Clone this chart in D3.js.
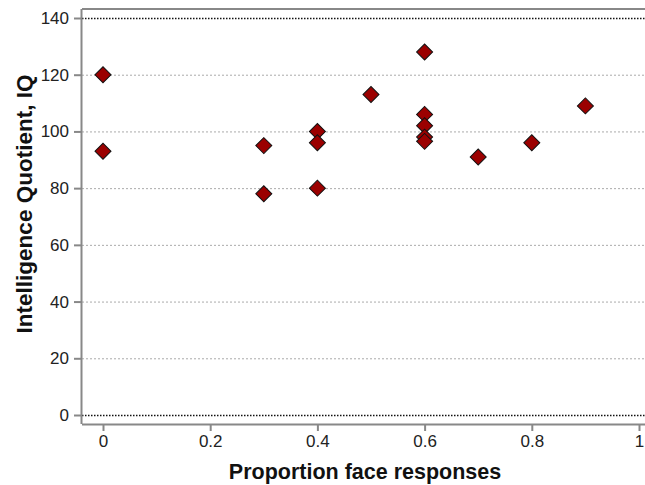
<!DOCTYPE html>
<html>
<head>
<meta charset="utf-8">
<script src="https://cdn.jsdelivr.net/npm/d3@7"></script>
<style>
  body{margin:0;background:#fff;}
  svg{font-family:"Liberation Sans",Arial,sans-serif;}
</style>
</head>
<body>
<div class="chart"></div>
<script>
// data
const faceProp = [0, 0, 0.3, 0.3, 0.4, 0.4, 0.4, 0.5, 0.6, 0.6, 0.6, 0.6, 0.6, 0.7, 0.8, 0.9];
const iqValues = [120, 93, 95, 78, 100, 96, 80, 113, 128, 106, 102, 98, 96.5, 91, 96, 109];
const xTicks = [0, 0.2, 0.4, 0.6, 0.8, 1];
const yTicks = [0, 20, 40, 60, 80, 100, 120, 140];

const points = faceProp.map((d, i) => ({x: d, y: iqValues[i]}));

const width = 645, height = 485;
const margin = {top: 9, right: 0, bottom: 61, left: 82};

const svg = d3.select('.chart').append('svg')
  .attr('width', width).attr('height', height);

const plotW = width - margin.left - margin.right;
const plotH = height - margin.top - margin.bottom;

// x: 0 -> 103px, 1 -> 639px
const xScale = d3.scaleLinear().domain([0, 1]).range([103 - margin.left, 639 - margin.left]);
// y: 140 -> 18px, 0 -> 415px
const yScale = d3.scaleLinear().domain([0, 140]).range([415 - margin.top, 18 - margin.top]);

const g = svg.append('g').attr('transform', `translate(${margin.left},${margin.top})`);

// gridlines
g.selectAll('.grid').data(yTicks).enter()
  .append('line').attr('class', 'grid')
  .attr('x1', 0).attr('x2', plotW)
  .attr('y1', d => yScale(d) + 0.5).attr('y2', d => yScale(d) + 0.5)
  .style('stroke', d => (d == 0 || d == 140) ? '#111' : '#aaa')
  .style('stroke-width', d => (d == 0 || d == 140) ? 1.3 : 1)
  .style('stroke-dasharray', d => (d == 0 || d == 140) ? '1.5,1.5' : '2,2');

// frame top + axes
g.append('line').attr('x1', 0).attr('x2', plotW).attr('y1', 0).attr('y2', 0)
  .style('stroke', '#888').style('stroke-width', 2);

const xAxis = d3.axisBottom(xScale).tickValues(xTicks).tickFormat(d3.format('~g'))
  .tickSizeInner(7).tickSizeOuter(0).tickPadding(4);
const xAxisDraw = g.append('g').attr('class', 'xaxis')
  .attr('transform', `translate(0,${plotH})`).call(xAxis);
xAxisDraw.select('.domain').attr('d', `M0,0.5H${plotW}`);

const yAxis = d3.axisLeft(yScale).tickValues(yTicks)
  .tickSizeInner(8).tickSizeOuter(0).tickPadding(5);
const yAxisDraw = g.append('g').attr('class', 'yaxis').call(yAxis);
yAxisDraw.select('.domain').attr('d', `M-0.5,0V${plotH}`);

[xAxisDraw, yAxisDraw].forEach(a => {
  a.attr('font-size', null).attr('font-family', null);
  a.selectAll('.domain').style('stroke', '#888').style('stroke-width', 2);
  a.selectAll('.tick line').style('stroke', '#888').style('stroke-width', 2);
  a.selectAll('text').style('font-size', '17px').style('fill', '#222')
    .style('font-family', '"Liberation Sans",Arial,sans-serif');
});

// markers
const diamond = d3.symbol().type(d3.symbolSquare).size(128);
g.selectAll('.pt').data(points).enter()
  .append('path').attr('class', 'pt')
  .attr('d', diamond)
  .attr('transform', d => `translate(${xScale(d.x)},${yScale(d.y)}) rotate(45)`)
  .style('fill', '#9b0000').style('stroke', '#111').style('stroke-width', 1);

// titles
svg.append('text').attr('x', 365).attr('y', 479)
  .attr('text-anchor', 'middle').style('font-weight', 'bold').style('font-size', '21.5px')
  .style('fill', '#111').text('Proportion face responses');

svg.append('text').attr('transform', `translate(32,204) rotate(-90)`)
  .attr('text-anchor', 'middle').style('font-weight', 'bold').style('font-size', '22.5px')
  .style('fill', '#111').text('Intelligence Quotient, IQ');
</script>
</body>
</html>
